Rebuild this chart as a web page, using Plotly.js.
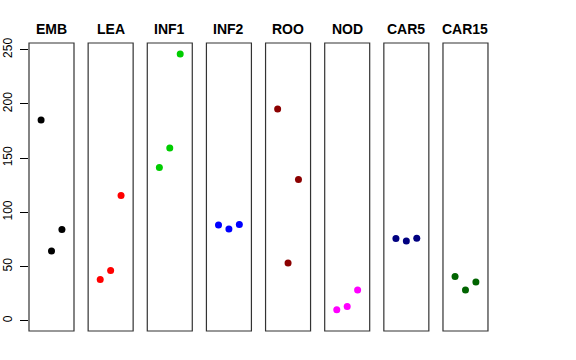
<!DOCTYPE html>
<html>
<head>
<meta charset="utf-8">
<script src="https://cdn.plot.ly/plotly-3.0.1.min.js"></script>
<style>html,body{margin:0;padding:0;background:#fff;}#chart{width:576px;height:360px;}</style>
</head>
<body>
<div id="chart"></div>
<script>
// Data
const categories = ["EMB", "LEA", "INF1", "INF2", "ROO", "NOD", "CAR5", "CAR15"];
const positions = [1, 2, 3];
const EMB = [185.2, 64.4, 84.1];
const LEA = [38.0, 46.3, 115.5];
const INF1 = [141.3, 159.4, 246.1];
const INF2 = [88.4, 84.7, 88.7];
const ROO = [195.4, 53.3, 130.2];
const NOD = [10.0, 13.1, 28.4];
const CAR5 = [75.8, 73.6, 76.1];
const CAR15 = [40.8, 28.4, 35.8];
const yTicks = [0, 50, 100, 150, 200, 250];

const series = [EMB, LEA, INF1, INF2, ROO, NOD, CAR5, CAR15];
const colors = ["#000000", "#FF0000", "#00CD00", "#0000FF", "#8B0000", "#FF00FF", "#000080", "#006400"];

const W = 576, H = 360;
const left0 = 29, step = 59.14, pw = 45;
const yTopPx = 43, yBotPx = 331;
const yd = [(H - yBotPx) / H, (H - yTopPx) / H];

const traces = [];
const layout = {
  width: W, height: H,
  margin: {l: 0, r: 0, t: 0, b: 0},
  paper_bgcolor: "#fff", plot_bgcolor: "rgba(0,0,0,0)",
  showlegend: false,
  font: {family: "Liberation Sans, Arial, sans-serif", color: "#000"},
  shapes: [], annotations: [],
  yaxis: {
    domain: yd, range: [-9.5, 256.2], anchor: "x",
    tickvals: yTicks, ticktext: yTicks.map(String),
    ticks: "outside", ticklen: 8, tickwidth: 1, tickcolor: "#000",
    tickangle: -90, tickfont: {size: 12, color: "#000"},
    ticklabelstandoff: 3,
    showgrid: false, zeroline: false, showline: false
  }
};

categories.forEach((cat, i) => {
  const ax = i === 0 ? "x" : "x" + (i + 1);
  const axKey = i === 0 ? "xaxis" : "xaxis" + (i + 1);
  const x0 = (left0 + step * i) / W, x1 = (left0 + step * i + pw) / W;
  layout[axKey] = {
    domain: [x0, x1], range: [-0.16, 4.16], anchor: "y",
    visible: false, showgrid: false, zeroline: false
  };
  traces.push({
    type: "scatter", mode: "markers",
    x: positions, y: series[i],
    xaxis: ax, yaxis: "y",
    marker: {color: colors[i], size: 7},
    hoverinfo: "skip"
  });
  layout.shapes.push({
    type: "rect", xref: "paper", yref: "paper",
    x0: x0, x1: x1, y0: yd[0], y1: yd[1],
    line: {color: "#333", width: 1.2}, fillcolor: "rgba(0,0,0,0)"
  });
  layout.annotations.push({
    text: "<b>" + cat + "</b>", xref: "paper", yref: "paper",
    x: (x0 + x1) / 2, y: (H - 29) / H, xanchor: "center", yanchor: "middle",
    showarrow: false, font: {size: 14, color: "#000"}
  });
});

Plotly.newPlot("chart", traces, layout, {staticPlot: true, displayModeBar: false});
</script>
</body>
</html>
